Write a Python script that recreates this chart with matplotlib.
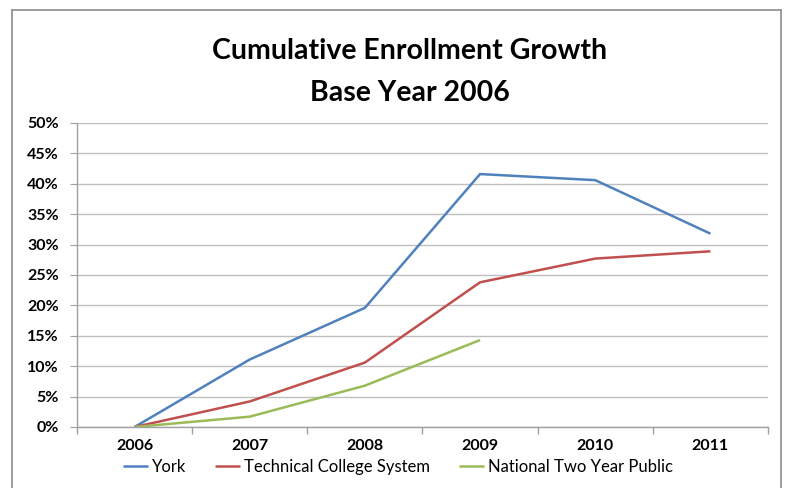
import matplotlib
matplotlib.use("Agg")
import matplotlib.pyplot as plt
from matplotlib.lines import Line2D
import numpy as np

years = ["2006", "2007", "2008", "2009", "2010", "2011"]
york = [0.0, 11.1, 19.6, 41.6, 40.6, 31.8]
technical = [0.0, 4.2, 10.6, 23.8, 27.7, 28.9]
national = [0.0, 1.7, 6.8, 14.3, np.nan, np.nan]
series_names = ["York", "Technical College System", "National Two Year Public"]
yticks = [0, 5, 10, 15, 20, 25, 30, 35, 40, 45, 50]

plt.rcParams['font.family'] = ['Lato', 'DejaVu Sans']

W, H = 785, 488
fig = plt.figure(figsize=(W/100, H/100), dpi=100)
ax = fig.add_axes([77/W, 1-427/H, (768-77)/W, (427-123)/H])

x = np.arange(len(years))
colors = ["#4F81BD", "#C0504D", "#9BBB59"]
for vals, name, c in zip([york, technical, national], series_names, colors):
    ax.plot(x, vals, color=c, lw=1.8, label=name, solid_capstyle='butt')

ax.set_xlim(-0.5, len(years)-0.5)
ax.set_ylim(0, 50)
ax.set_yticks(yticks)
ax.set_yticklabels([f"{v}%" for v in yticks], fontsize=11.5, fontweight='bold')
ax.yaxis.grid(True, color="#BFBFBF", lw=1)
ax.set_axisbelow(True)
ax.tick_params(axis='y', length=5, color="#A0A0A0", pad=8)

ax.set_xticks(x)
ax.set_xticklabels(years, fontsize=11.5, fontweight='bold')
ax.tick_params(axis='x', which='major', length=0, pad=9)
ax.set_xticks(np.arange(-0.5, len(years)), minor=True)
ax.tick_params(axis='x', which='minor', length=5, color="#A0A0A0", width=1)

for s in ['top', 'right']:
    ax.spines[s].set_visible(False)
for s in ['left', 'bottom']:
    ax.spines[s].set_color("#A0A0A0")
    ax.spines[s].set_linewidth(1)

fig.text(410/W, 1-51/H, "Cumulative Enrollment Growth", ha='center', va='center',
         fontsize=20.5, fontweight='bold')
fig.text(410/W, 1-93/H, "Base Year 2006", ha='center', va='center',
         fontsize=20.5, fontweight='bold')

leg = fig.legend(loc='center', bbox_to_anchor=(398/W, 1-467/H), ncol=3, frameon=False,
                 fontsize=12, handlelength=1.5, handletextpad=0.25, columnspacing=1.7)

# chart border
bc = "#8C8C8C"
fig.add_artist(Line2D([12/W, 12/W], [0, 1-10/H], color=bc, lw=1.2, transform=fig.transFigure))
fig.add_artist(Line2D([12/W, 781/W], [1-10/H, 1-10/H], color=bc, lw=1.2, transform=fig.transFigure))
fig.add_artist(Line2D([781/W, 781/W], [0, 1-10/H], color=bc, lw=1.2, transform=fig.transFigure))

fig.savefig("out.png", dpi=100)
